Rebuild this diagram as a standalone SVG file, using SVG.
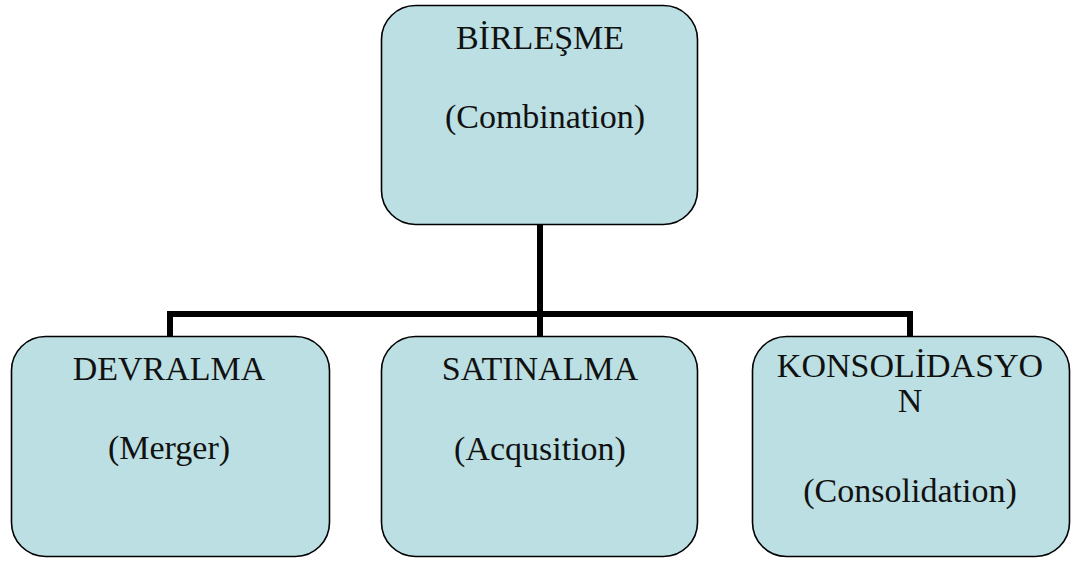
<svg xmlns="http://www.w3.org/2000/svg" width="1077" height="561" viewBox="0 0 1077 561">
<style>
.box{fill:#BBDFE2;stroke:#000;stroke-width:1.6}
.t{font-family:"Liberation Serif","Times New Roman",serif;font-size:34px;fill:#111;text-anchor:middle}
.c{fill:none;stroke:#000;stroke-width:6;stroke-linejoin:miter}
</style>
<rect width="1077" height="561" fill="#fff"/>
<g id="connectors">
<path class="c" d="M540,225 V336 M170,336 V314 H910 V336"/>
</g>
<g id="n-birlesme">
<rect class="box" x="381.5" y="5.5" width="316" height="219" rx="34"/>
<text class="t" x="540" y="49">BİRLEŞME</text>
<text class="t" x="545" y="128">(Combination)</text>
</g>
<g id="n-devralma">
<rect class="box" x="11.5" y="336.5" width="318" height="220" rx="34"/>
<text class="t" x="169" y="380">DEVRALMA</text>
<text class="t" x="169" y="459">(Merger)</text>
</g>
<g id="n-satinalma">
<rect class="box" x="381.5" y="336.5" width="316" height="220" rx="34"/>
<text class="t" x="540" y="380">SATINALMA</text>
<text class="t" x="540" y="460">(Acqusition)</text>
</g>
<g id="n-konsolidasyon">
<rect class="box" x="752.5" y="336.5" width="317" height="220" rx="34"/>
<text class="t" x="910" y="377">KONSOLİDASYO</text>
<text class="t" x="910" y="412">N</text>
<text class="t" x="910" y="502">(Consolidation)</text>
</g>
</svg>
